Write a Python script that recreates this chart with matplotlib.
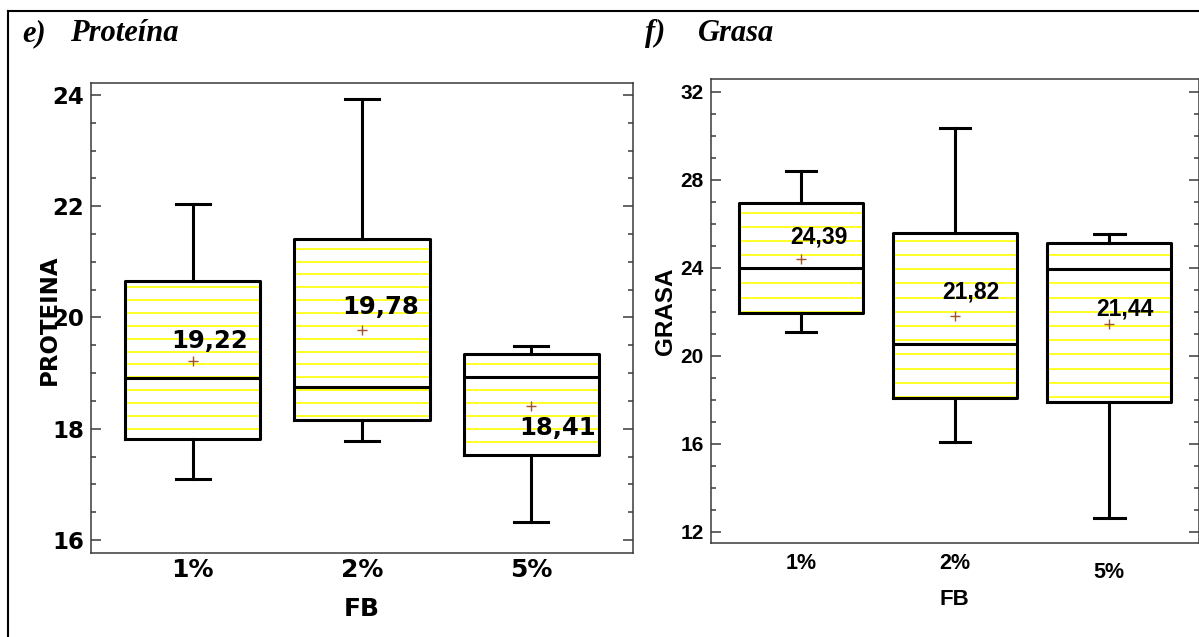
import matplotlib
matplotlib.use("Agg")
import matplotlib.pyplot as plt
import numpy as np
from matplotlib.lines import Line2D
from matplotlib.ticker import AutoMinorLocator, FixedLocator
from matplotlib.transforms import ScaledTranslation

groups = ["1%", "2%", "5%"]

# Proteína por nivel de FB
prot_lo = [17.10, 17.78, 16.32]
prot_q1 = [17.82, 18.16, 17.53]
prot_med = [18.91, 18.75, 18.93]
prot_q3 = [20.66, 21.41, 19.34]
prot_hi = [22.04, 23.93, 19.49]
prot_mean = [19.22, 19.78, 18.41]
prot_ticks = [16, 18, 20, 22, 24]

# Grasa por nivel de FB
grasa_lo = [21.09, 16.08, 12.61]
grasa_q1 = [21.93, 18.06, 17.88]
grasa_med = [24.00, 20.52, 23.93]
grasa_q3 = [26.95, 25.59, 25.12]
grasa_hi = [28.41, 30.36, 25.51]
grasa_mean = [24.39, 21.82, 21.44]
grasa_ticks = [12, 16, 20, 24, 28, 32]

W, H, DPI = 1199, 637, 100
fig = plt.figure(figsize=(W / DPI, H / DPI), dpi=DPI)


def rect(x0, y0, x1, y1):
    # pixel box (top-left origin) -> figure fraction
    return [x0 / W, 1 - y1 / H, (x1 - x0) / W, (y1 - y0) / H]


def make_stats(lo, q1, med, q3, hi, mean):
    return [dict(whislo=a, q1=b, med=c, q3=d, whishi=e, mean=f, fliers=[])
            for a, b, c, d, e, f in zip(lo, q1, med, q3, hi, mean)]


def panel(ax, stats, means, yticks, ylim, xlim, step, origin, font, sizes,
          offsets, ylabel, ylabel_xy, xlabel_y, xpad, ypad):
    pos = [1, 2, 3]
    width = 0.8
    line = dict(color="black", linewidth=2.2)
    ax.bxp(stats, positions=pos, widths=width, capwidths=0.2,
           showmeans=True, showfliers=False, manage_ticks=False,
           boxprops=line, whiskerprops=line, capprops=line, medianprops=line,
           meanprops=dict(marker="+", markeredgecolor="#a0522d",
                          markersize=7, markeredgewidth=1.0, linestyle="none"))
    # yellow striping inside each box
    for p, s in zip(pos, stats):
        ys = origin + step * np.arange(-300, 300)
        ys = ys[(ys > s["q1"] + 0.02) & (ys < s["q3"] - 0.02)]
        ax.hlines(ys, p - width / 2, p + width / 2, colors="#ffff00",
                  linewidth=1.2, zorder=1.5)
    for p, m, (dx, dy) in zip(pos, means, offsets):
        ax.annotate(f"{m:.2f}".replace(".", ","), (p, m), xytext=(dx, -dy),
                    textcoords="offset pixels", ha="center", va="center",
                    fontsize=sizes["val"], fontweight="bold", family=font,
                    zorder=5)
    ax.set_xlim(*xlim)
    ax.set_ylim(*ylim)
    ax.yaxis.set_major_locator(FixedLocator(yticks))
    ax.yaxis.set_minor_locator(AutoMinorLocator(4))
    ax.set_xticks(pos, groups)
    for sp in ax.spines.values():
        sp.set_color("#3a3a3a")
        sp.set_linewidth(1.1)
    ax.tick_params(axis="y", which="both", direction="in", left=True,
                   right=True, color="#3a3a3a", width=1.1, pad=ypad)
    ax.tick_params(axis="y", which="major", length=7.5)
    ax.tick_params(axis="y", which="minor", length=3.6)
    ax.tick_params(axis="x", length=0, pad=xpad)
    for lbl in ax.get_yticklabels():
        lbl.set_fontsize(sizes["ytick"])
        lbl.set_fontweight("bold")
        lbl.set_family(font)
    for lbl in ax.get_xticklabels():
        lbl.set_fontsize(sizes["xtick"])
        lbl.set_fontweight("bold")
        lbl.set_family(font)
    ax.text(ylabel_xy[0], ylabel_xy[1], ylabel, transform=ax.transAxes,
            rotation=90, ha="center", va="center", fontsize=sizes["ylab"],
            fontweight="bold", family=font)
    ax.text(0.5, xlabel_y, "FB", transform=ax.transAxes, ha="center",
            va="center", fontsize=sizes["xlab"], fontweight="bold",
            family=font)


ax1 = fig.add_axes(rect(91, 82.7, 633, 553.3))
panel(ax1, make_stats(prot_lo, prot_q1, prot_med, prot_q3, prot_hi, prot_mean),
      prot_mean, prot_ticks, (15.76, 24.22), (0.4, 3.6), 0.2312, 18.0,
      "DejaVu Sans",
      dict(ytick=16.5, xtick=18, ylab=16.5, xlab=18, val=17.5),
      [(17.5, -20), (18.5, -23), (26, 22)],
      "PROTEINA", (-0.0775, 0.496), -0.118, 3.6, 4.8)

ax2 = fig.add_axes(rect(710.8, 79, 1198.5, 543.3))
panel(ax2, make_stats(grasa_lo, grasa_q1, grasa_med, grasa_q3, grasa_hi, grasa_mean),
      grasa_mean, grasa_ticks, (11.47, 32.58), (0.415, 3.58), 0.645, 20.06,
      "Liberation Sans",
      dict(ytick=15, xtick=15.5, ylab=17.5, xlab=16, val=16.5),
      [(17.6, -22), (15.7, -23.6), (15.8, -15)],
      "GRASA", (-0.0924, 0.5), -0.122, 6.8, 4.9)

# the 5% label on the grasa panel sits a little lower
t5 = ax2.xaxis.get_major_ticks()[2].label1
t5.set_transform(t5.get_transform() + ScaledTranslation(0, -9 / DPI, fig.dpi_scale_trans))

# panel headings
head = dict(family="Liberation Serif", fontweight="bold", fontstyle="italic",
            fontsize=22, va="baseline", ha="left")
fig.text(22 / W, 1 - 41 / H, "e)", **head)
fig.text(70 / W, 1 - 41 / H, "Proteína", **head)
fig.text(645 / W, 1 - 41 / H, "f)", **head)
fig.text(698 / W, 1 - 41 / H, "Grasa", **head)

# table frame around the figure
fig.add_artist(Line2D([8 / W, 1], [1 - 11 / H, 1 - 11 / H], color="black", linewidth=1.5))
fig.add_artist(Line2D([8 / W, 8 / W], [0, 1 - 11 / H], color="black", linewidth=1.5))

fig.savefig("out.png", dpi=DPI)
